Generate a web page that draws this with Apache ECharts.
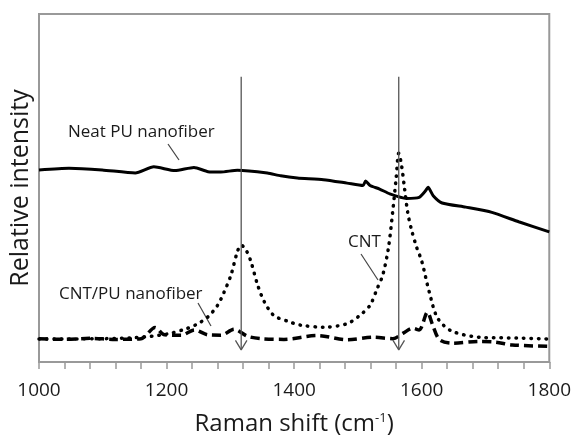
<!DOCTYPE html>
<html>
<head>
<meta charset="utf-8">
<script src="https://cdn.jsdelivr.net/npm/echarts@6/dist/echarts.min.js"></script>
<style>
  html, body { margin: 0; padding: 0; background: #fff; }
  #main { width: 574px; height: 441px; }
</style>
</head>
<body>
<div id="main"></div>
<script>
// Neat PU nanofiber (solid)
var neatX = [1000,1047,1099,1151,1180,1213,1243,1265,1285,1311,1358,1379,1405,1446,1483,1508,1512,1519,1534,1550,1576,1596,1606,1610,1618,1632,1669,1710,1752,1800];
var neatY = [55.2,55.7,55.2,54.3,56.1,55.0,55.9,54.7,54.6,55.1,54.3,53.5,52.9,52.4,51.4,50.7,52.0,50.7,49.7,48.3,47.0,47.3,49.2,50.2,47.8,45.7,44.5,43.0,40.3,37.4];

// CNT (dotted)
var cntX = [1000,1100,1150,1200,1233,1249,1265,1280,1290,1301,1311,1317,1325,1332,1343,1353,1368,1390,1410,1446,1483,1503,1519,1530,1539,1548,1555,1560,1564,1568,1573,1578,1584,1592,1600,1612,1625,1648,1700,1750,1800];
var cntY = [6.6,6.7,7.0,8.0,9.7,11.0,13.0,16.3,20.0,25.0,31.7,33.6,32.0,29.0,22.0,17.4,13.4,11.7,10.6,10.0,11.0,13.4,16.3,21.0,25.0,33.0,44.0,53.0,60.0,57.0,50.0,43.0,38.0,33.0,29.0,20.0,12.6,8.8,7.0,6.9,6.6];

// CNT/PU nanofiber (dashed)
var dashX = [1000,1040,1080,1120,1160,1182,1197,1223,1244,1265,1285,1306,1327,1348,1384,1436,1483,1524,1555,1571,1586,1596,1609,1617,1628,1648,1690,1716,1742,1800];
var dashY = [6.7,6.5,6.8,6.5,6.7,9.9,7.8,7.7,9.2,7.8,7.7,9.4,7.4,6.7,6.5,7.6,6.4,7.1,6.7,8.3,9.7,9.2,14.3,10.7,6.4,5.4,5.9,5.7,4.9,4.5];

// peak arrows
var arrowX = [1317, 1564];
var arrowTop = 82;
var arrowTip = 3.5;

function pairs(xs, ys) {
  return xs.map(function (x, i) { return [x, ys[i]]; });
}

var chart = echarts.init(document.getElementById('main'));
var font = '"Open Sans", sans-serif';
var ink = '#1a1a1a';

var series = [
  {
    name: 'CNT/PU nanofiber',
    type: 'line',
    data: pairs(dashX, dashY),
    smooth: 0.3,
    showSymbol: false,
    lineStyle: { color: '#000', width: 3.5, type: [9, 5] }
  },
  {
    name: 'CNT',
    type: 'line',
    data: pairs(cntX, cntY),
    smooth: 0.3,
    showSymbol: false,
    lineStyle: { color: '#000', width: 3.5, type: [0.5, 7], cap: 'round' }
  },
  {
    name: 'Neat PU nanofiber',
    type: 'line',
    data: pairs(neatX, neatY),
    smooth: 0.2,
    showSymbol: false,
    lineStyle: { color: '#000', width: 3 }
  }
];

arrowX.forEach(function (x) {
  series.push({
    type: 'line',
    data: [[x, arrowTop], [x, arrowTip]],
    showSymbol: false,
    silent: true,
    z: 5,
    lineStyle: { color: '#555', width: 1.3 }
  });
  series.push({
    type: 'line',
    data: [[x - 9, 6.2], [x, arrowTip], [x + 9, 6.2]],
    showSymbol: false,
    silent: true,
    z: 5,
    lineStyle: { color: '#555', width: 1.3 }
  });
});

var option = {
  animation: false,
  textStyle: { fontFamily: font },
  grid: {
    left: 37, right: 23, top: 14, bottom: 77,
    show: true, borderColor: '#999', borderWidth: 2
  },
  xAxis: {
    type: 'value',
    min: 1000, max: 1800, interval: 200,
    name: '{a|Raman shift (cm}{s|-1}{a|)}',
    nameLocation: 'middle',
    nameGap: 50,
    nameTextStyle: {
      rich: {
        a: { fontSize: 24, color: ink, fontFamily: font },
        s: { fontSize: 13, color: ink, fontFamily: font, verticalAlign: 'top', padding: [0, 0, 10, 0] }
      }
    },
    axisLine: { lineStyle: { color: '#999', width: 2 } },
    axisTick: { show: true, length: 7, lineStyle: { color: '#999', width: 1.5 } },
    minorTick: { show: true, splitNumber: 5, length: 7, lineStyle: { color: '#999', width: 1.5 } },
    axisLabel: { fontSize: 19, color: ink, margin: 19, formatter: function (v) { return String(v); } },
    splitLine: { show: false }
  },
  yAxis: {
    type: 'value',
    min: 0, max: 100,
    name: 'Relative intensity',
    nameLocation: 'middle',
    nameGap: 6,
    nameTextStyle: { fontSize: 25, color: ink },
    axisLine: { show: true, lineStyle: { color: '#999', width: 2 } },
    axisTick: { show: false },
    axisLabel: { show: false },
    splitLine: { show: false }
  },
  graphic: [
    { type: 'text', left: 68, top: 124, style: { text: 'Neat PU nanofiber', fontSize: 17, fill: ink, fontFamily: font } },
    { type: 'line', shape: { x1: 168, y1: 144, x2: 179, y2: 160 }, style: { stroke: '#444', lineWidth: 1.2 } },
    { type: 'text', left: 59, top: 286, style: { text: 'CNT/PU nanofiber', fontSize: 17, fill: ink, fontFamily: font } },
    { type: 'line', shape: { x1: 198, y1: 303, x2: 211, y2: 326 }, style: { stroke: '#444', lineWidth: 1.2 } },
    { type: 'text', left: 348, top: 234, style: { text: 'CNT', fontSize: 17, fill: ink, fontFamily: font } },
    { type: 'line', shape: { x1: 361, y1: 254, x2: 378, y2: 280 }, style: { stroke: '#444', lineWidth: 1.2 } }
  ],
  series: series
};

chart.setOption(option);
</script>
</body>
</html>
